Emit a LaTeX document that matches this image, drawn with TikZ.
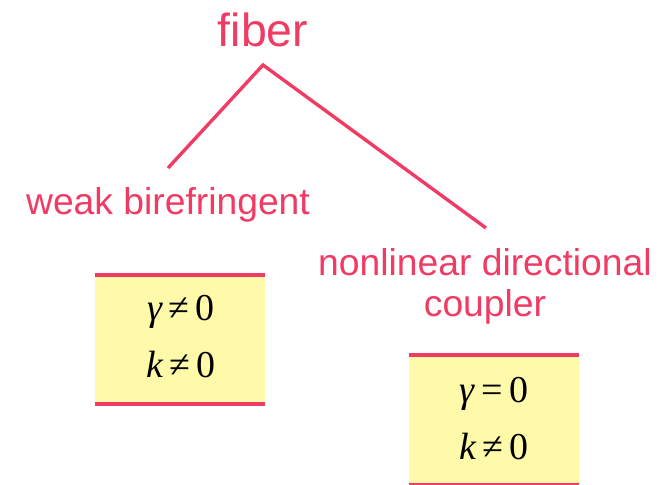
\documentclass[tikz,border=0pt]{standalone}
\usepackage{fontspec}
\setmainfont{Liberation Sans}
\newfontfamily\mathserif{Liberation Serif}
\usetikzlibrary{positioning,calc}
\definecolor{branch}{RGB}{240,60,100}
\definecolor{paper}{RGB}{255,250,170}
\newcommand{\mvar}[1]{{\mathserif\itshape #1}}
\begin{document}
\begin{tikzpicture}[x=0.025cm, y=-0.025cm,
    every node/.style={text=branch, inner sep=0pt},
    label/.style={font=\fontsize{26.5}{29}\selectfont, align=center},
    param/.style={fill=paper, minimum width=4.25cm, minimum height=3.225cm, text=black},
    cond/.style={font=\mathserif\fontsize{27}{30}\selectfont, text=black},
    rail/.style={draw=branch, line width=3pt},
    twig/.style={draw=branch, line width=2.4pt}]
  \useasboundingbox (0,0) rectangle (667,485);
  % tree
  \node[font=\fontsize{33}{38}\selectfont] (fiber) at (263,30) {fiber};
  \coordinate (apex) at (263,65);
  \node[label] (weak) at (168,205) {weak birefringent};
  \node[label] (nldc) at (485,286) {nonlinear directional\\coupler};
  \coordinate (weaktop) at (168,168);
  \coordinate (nldctop) at (486,228);
  \draw[twig] (weaktop) -- (apex) -- (nldctop);
  % parameter boxes
  \node[param] (box1) at (180,339.5) {};
  \draw[rail] (box1.north west) -- (box1.north east);
  \draw[rail] (box1.south west) -- (box1.south east);
  \node[cond] (g1) at (181,312) {\mvar{γ}\,≠\,0};
  \node[cond] (k1) at (181,365) {\mvar{k}\,≠\,0};
  \node[param] (box2) at (494,420) {};
  \draw[rail] (box2.north west) -- (box2.north east);
  \draw[rail] (box2.south west) -- (box2.south east);
  \node[cond] (g2) at (494,394) {\mvar{γ}\,=\,0};
  \node[cond] (k2) at (494,447) {\mvar{k}\,≠\,0};
\end{tikzpicture}
\end{document}
